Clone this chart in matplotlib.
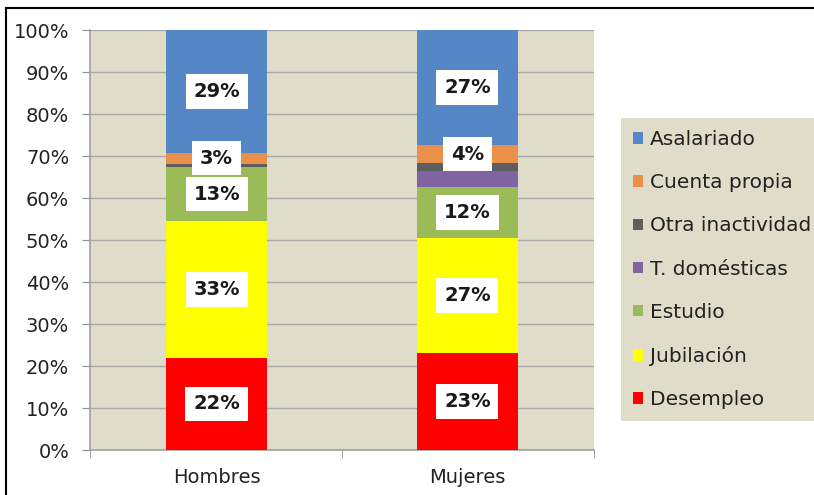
import numpy as np
import matplotlib
matplotlib.use('Agg')
import matplotlib.pyplot as plt
from matplotlib.lines import Line2D

categories = ['Hombres', 'Mujeres']
series = ['Desempleo', 'Jubilación', 'Estudio', 'T. domésticas',
          'Otra inactividad', 'Cuenta propia', 'Asalariado']
desempleo = [22.0, 23.1]
jubilacion = [32.5, 27.4]
estudio = [12.9, 12.2]
t_domesticas = [0.0, 3.7]
otra_inactividad = [0.8, 1.9]
cuenta_propia = [2.6, 4.3]
asalariado = [29.2, 27.4]
labels = {
    'Desempleo': ['22%', '23%'],
    'Jubilación': ['33%', '27%'],
    'Estudio': ['13%', '12%'],
    'Cuenta propia': ['3%', '4%'],
    'Asalariado': ['29%', '27%'],
}
colors = ['#FF0000', '#FFFF00', '#9BBB59', '#8064A2',
          '#5E5E5E', '#E9914B', '#5587C6']

values = [desempleo, jubilacion, estudio, t_domesticas,
          otra_inactividad, cuenta_propia, asalariado]

plt.rcParams['font.family'] = ['DejaVu Sans']

fig = plt.figure(figsize=(8.14, 4.95), dpi=100)
ax = fig.add_axes([90/814, 45/495, 504/814, 420/495])
bg = '#E0DCCA'
ax.set_facecolor(bg)

x = np.arange(len(categories))
bottom = np.zeros(len(categories))
bars = []
for name, vals, c in zip(series, values, colors):
    b = ax.bar(x, vals, 0.40, bottom=bottom, color=c, label=name, zorder=3)
    bars.append(b)
    if name in labels:
        for xi, v, btm, txt in zip(x, vals, bottom, labels[name]):
            ax.text(xi, btm + v/2, txt, ha='center', va='center',
                    fontsize=14, fontweight='bold', color='#1a1a1a', zorder=5,
                    bbox=dict(facecolor='white', edgecolor='none',
                              boxstyle='square,pad=0.4'))
    bottom = bottom + np.array(vals)

ax.set_ylim(0, 100)
ax.set_xlim(-0.505, 1.505)
ax.set_yticks(np.arange(0, 101, 10))
ax.set_yticklabels([f'{v}%' for v in range(0, 101, 10)], fontsize=14, color='#222222')
ax.set_xticks(x)
ax.set_xticklabels(categories, fontsize=14, color='#222222')
ax.set_xticks([-0.505, 0.5, 1.505], minor=True)
ax.tick_params(axis='x', which='major', length=0, pad=13)
ax.tick_params(axis='x', which='minor', length=6, color='#909090')
ax.tick_params(axis='y', length=6, color='#909090', pad=9)
ax.yaxis.grid(True, color='#A8A8A8', linewidth=1, zorder=0)
ax.set_axisbelow(True)
for s in ['top', 'right']:
    ax.spines[s].set_visible(False)
for s in ['left', 'bottom']:
    ax.spines[s].set_color('#A0A0A0')
    ax.spines[s].set_linewidth(1.2)

handles = [b.patches[0] for b in bars][::-1]
leg = fig.legend(handles, series[::-1], loc='upper left',
                 bbox_to_anchor=(621/814, 1 - 118/495), borderaxespad=0,
                 fontsize=14.5, frameon=True, facecolor=bg, edgecolor='none',
                 fancybox=False, handlelength=0.5, handleheight=0.5,
                 handletextpad=0.35, labelspacing=1.2, borderpad=0.6,
                 framealpha=1)
for t in leg.get_texts():
    t.set_color('#222222')

# frame lines of the outer border (left and top)
fig.add_artist(Line2D([6/814, 6/814], [0, 1 - 8/495], color='black', lw=1.5,
                      transform=fig.transFigure))
fig.add_artist(Line2D([6/814, 1], [1 - 8/495, 1 - 8/495], color='black', lw=1.5,
                      transform=fig.transFigure))

fig.savefig('out.png', dpi=100)
